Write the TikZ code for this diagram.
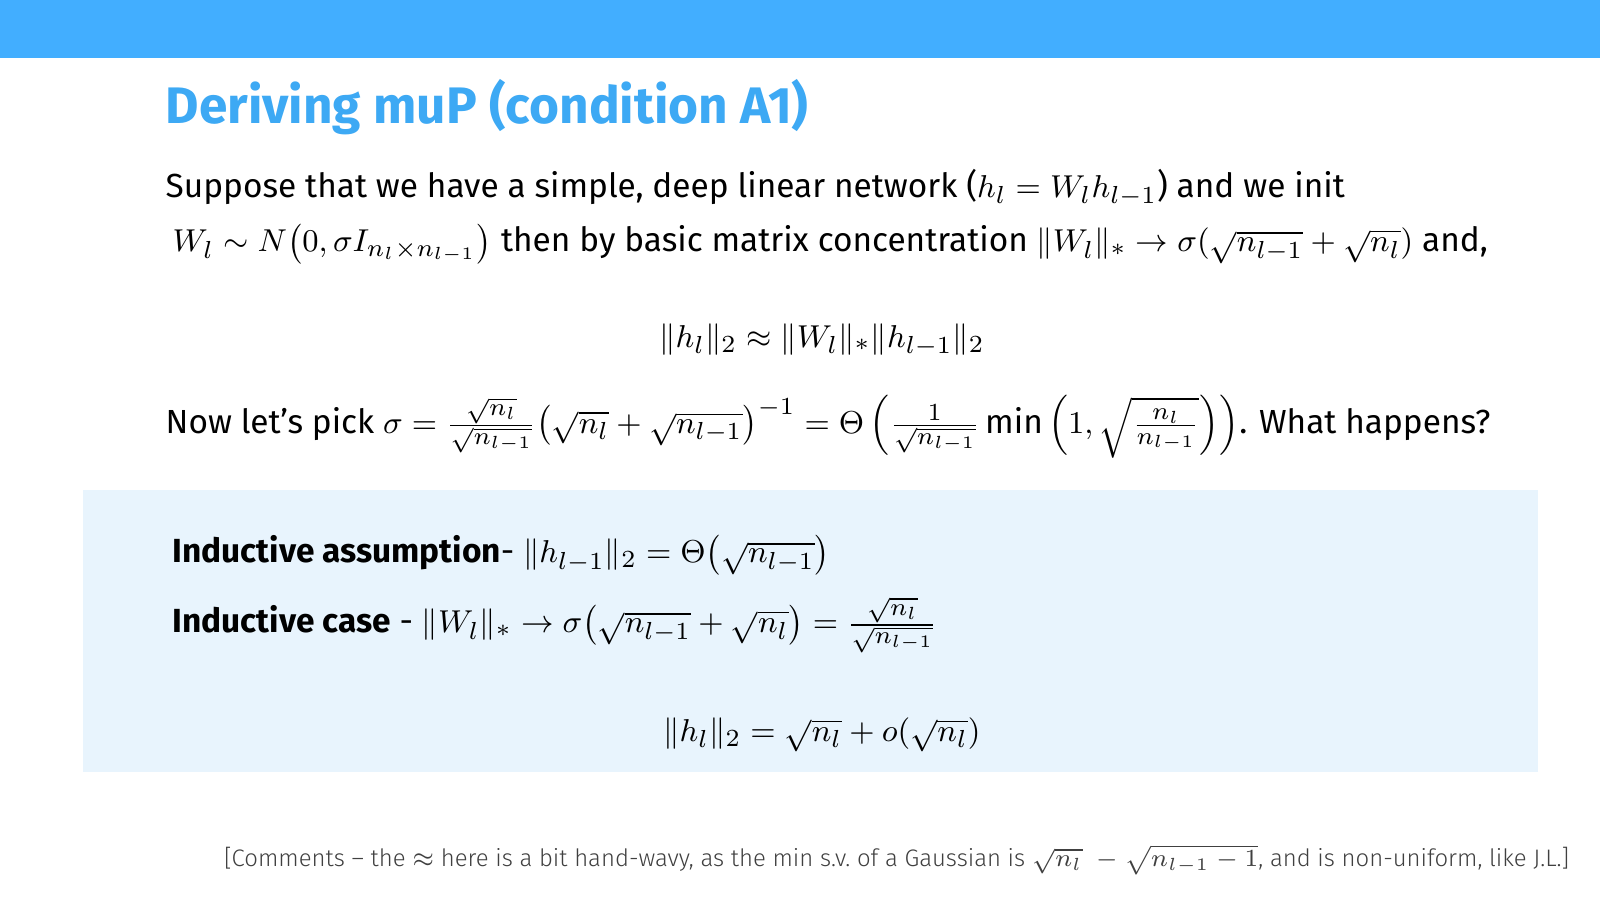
\documentclass[tikz,border=0pt]{standalone}
\usepackage{fontspec}
\usepackage{amsmath,amssymb}
\setmainfont{Fira Sans}
\newfontfamily\lightfont{Fira Sans Light}
\definecolor{barblue}{HTML}{42AEFF}
\definecolor{titleblue}{HTML}{3DA9F4}
\definecolor{boxblue}{HTML}{E8F4FD}
\tikzset{txt/.style={anchor=west,inner sep=0pt,font=\fontsize{9.5}{11}\selectfont},
ctr/.style={anchor=center,inner sep=0pt,font=\fontsize{9.5}{11}\selectfont}}
\begin{document}
\begin{tikzpicture}[x=0.01cm,y=-0.01cm]
\useasboundingbox (0,0) rectangle (1600,900);
\fill[white] (0,0) rectangle (1600,900);
\fill[barblue] (0,0) rectangle (1600,58);
\fill[boxblue] (83,490) rectangle (1538,772);
\node[anchor=west,inner sep=0pt,text=titleblue,font=\fontsize{14.6}{17}\selectfont\bfseries] (title) at (165,107) {Deriving muP (condition A1)};
\node[txt] (l1) at (165,188) {Suppose that we have a simple, deep linear network ($h_l=W_lh_{l-1}$) and we init};
\node[txt] (l2) at (172,244) {$W_l\sim N\big(0,\sigma I_{n_l\times n_{l-1}}\big)$ then by basic matrix concentration $\|W_l\|_*\to\sigma(\sqrt{n_{l-1}}+\sqrt{n_l})$ and,};
\node[ctr] (e1) at (822,340) {$\|h_l\|_2\approx\|W_l\|_*\|h_{l-1}\|_2$};
\node[txt] (l3) at (165,427) {Now let's pick $\sigma=\frac{\sqrt{n_l}}{\sqrt{n_{l-1}}}\big(\sqrt{n_l}+\sqrt{n_{l-1}}\big)^{-1}=\Theta\left(\frac{1}{\sqrt{n_{l-1}}}\min\left(1,\sqrt{\frac{n_l}{n_{l-1}}}\right)\right)$. What happens?};
\node[txt] (ia) at (172,555) {\textbf{Inductive assumption}- $\|h_{l-1}\|_2=\Theta\big(\sqrt{n_{l-1}}\big)$};
\node[txt] (ic) at (172,625) {\textbf{Inductive case} - $\|W_l\|_*\to\sigma\big(\sqrt{n_{l-1}}+\sqrt{n_l}\big)=\frac{\sqrt{n_l}}{\sqrt{n_{l-1}}}$};
\node[ctr] (e2) at (822,735) {$\|h_l\|_2=\sqrt{n_l}+o(\sqrt{n_l})$};
\node[anchor=east,inner sep=0pt,text=black!75,font=\fontsize{6.8}{8}\selectfont\lightfont] (cm) at (1570,860) {[Comments – the $\approx$ here is a bit hand-wavy, as the min s.v.\ of a Gaussian is $\sqrt{n_l}\ -\sqrt{n_{l-1}-1}$, and is non-uniform, like J.L.]};
\end{tikzpicture}
\end{document}
